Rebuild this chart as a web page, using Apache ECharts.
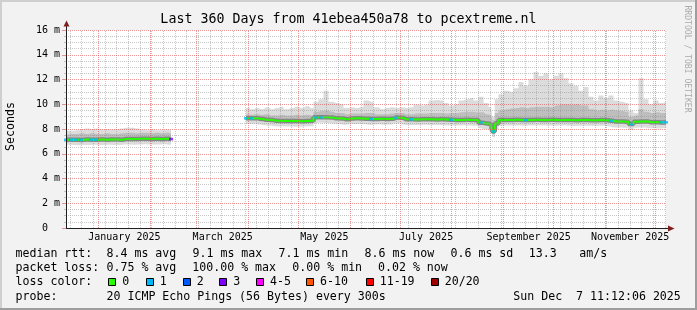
<!DOCTYPE html>
<html><head><meta charset="utf-8">
<script src="https://cdn.jsdelivr.net/npm/echarts@6.0.0/dist/echarts.min.js"></script>
<style>html,body{margin:0;padding:0;background:#f2f2f2;overflow:hidden}#c{width:697px;height:310px}</style>
</head><body><div id="c"></div>
<script>
// ---------- time range ----------
const END_TIME = Date.UTC(2025, 11, 7, 11, 12, 6);
const DAY_MS = 86400000;
const SPAN_DAYS = 360;
const START_TIME = END_TIME - SPAN_DAYS * DAY_MS;

// ---------- tick labels ----------
const xLabelText = ['January 2025', 'March 2025', 'May 2025', 'July 2025', 'September 2025', 'November 2025'];
const xLabelMonths = [0, 2, 4, 6, 8, 10];
const yUnit = 'm';

// ---------- data (days since start) ----------
const seg1Days = [0,3,6,9,12,15,18,21,24,27,30,33,36,39,42,45,48,51,54,57,60,63];
const seg1Med = [7.13,7.14,7.13,7.12,7.15,7.14,7.13,7.15,7.14,7.16,7.15,7.14,7.2,7.2,7.19,7.21,7.22,7.2,7.21,7.2,7.22,7.18];
const seg1Hi  = [7.85,7.85,7.9,8.0,8.05,8.0,8.05,7.95,8.0,7.95,8.0,8.05,8.1,8.1,8.05,7.95,7.9,7.95,7.9,7.9,7.95,7.9];
const seg1Mid = [7.55,7.6,7.6,7.65,7.6,7.65,7.6,7.6,7.65,7.6,7.6,7.65,7.7,7.7,7.65,7.7,7.7,7.65,7.7,7.65,7.7,7.65];
const seg1Lo  = [6.7,6.72,6.7,6.68,6.7,6.7,6.72,6.7,6.7,6.72,6.7,6.7,6.75,6.75,6.72,6.75,6.76,6.75,6.75,6.74,6.76,6.72];

// no data between these two days
const gapStartDay = 63.05;
const gapEndDay = 107.95;

const seg2Days = [108,111,114,117,120,123,126,129,132,135,138,141,144,147,
  150,153,156,159,162,165,168,171,174,177,180,183,186,189,192,195,198,201,
  204,207,210,213,216,219,222,225,228,231,234,237,240,243,246,249,252,
  255,256.5,258,
  261,264,267,270,273,276,279,282,285,288,291,294,297,300,303,306,309,312,315,318,321,324,
  327,330,333,336,339,342,345,348,351,354,357,360];
const seg2Med = [8.86,8.86,8.86,8.8,8.74,8.72,8.66,8.65,8.65,8.64,8.65,8.63,8.65,8.66,
  8.95,8.95,8.94,8.92,8.86,8.85,8.78,8.84,8.86,8.85,8.82,8.8,8.81,8.82,8.8,8.82,8.92,8.9,
  8.78,8.78,8.77,8.78,8.79,8.78,8.77,8.78,8.76,8.74,8.73,8.73,8.74,8.73,8.72,8.5,8.45,
  8.35,7.8,8.45,
  8.72,8.73,8.73,8.74,8.73,8.72,8.73,8.74,8.73,8.73,8.74,8.72,8.73,8.73,8.72,8.7,8.72,8.72,8.71,8.7,8.72,8.71,
  8.66,8.6,8.6,8.58,8.4,8.58,8.6,8.6,8.54,8.55,8.53,8.54];
const seg2Hi = [9.7,9.6,9.7,9.6,9.75,9.6,9.7,9.8,9.6,9.7,9.8,9.7,9.85,9.7,
  10.2,10.4,11.1,10.2,10.1,10.0,9.7,9.75,9.7,9.8,10.3,10.2,9.75,9.6,9.7,9.75,9.7,9.75,
  9.7,9.75,9.95,9.9,9.95,10.3,10.35,10.3,10.1,9.9,10.0,10.3,10.4,10.5,10.3,10.6,10.1,
  9.8,9.0,10.4,
  10.8,11.1,11.0,11.3,11.8,11.5,12.0,12.6,12.3,12.5,12.0,12.3,12.5,12.1,11.7,11.5,11.1,11.4,10.6,10.3,10.7,10.5,
  10.7,10.3,10.2,10.1,9.5,9.3,12.1,10.4,10.0,10.3,10.1,10.2];
const seg2Mid = [9.2,9.15,9.2,9.15,9.2,9.1,9.1,9.15,9.1,9.1,9.15,9.1,9.15,9.1,
  9.4,9.45,9.5,9.4,9.3,9.3,9.2,9.25,9.25,9.25,9.3,9.3,9.2,9.2,9.2,9.25,9.3,9.3,
  9.2,9.2,9.25,9.25,9.25,9.3,9.3,9.3,9.25,9.3,9.3,9.35,9.4,9.4,9.35,9.35,9.2,
  9.1,8.7,9.3,
  9.5,9.6,9.65,9.7,9.75,9.7,9.75,9.8,9.8,9.8,9.75,9.9,10.0,10.0,9.95,10.0,9.9,9.9,9.6,9.5,9.55,9.5,
  9.55,9.5,9.45,9.4,9.0,9.1,9.6,9.4,9.3,9.35,9.3,9.3];
const seg2Lo = [8.42,8.4,8.42,8.36,8.3,8.28,8.22,8.2,8.2,8.2,8.18,8.18,8.2,8.22,
  8.48,8.5,8.48,8.46,8.42,8.4,8.34,8.38,8.4,8.4,8.38,8.35,8.36,8.38,8.35,8.36,8.45,8.44,
  8.34,8.33,8.32,8.33,8.34,8.33,8.32,8.33,8.3,8.29,8.28,8.28,8.3,8.28,8.27,8.06,8.0,
  7.95,7.35,8.0,
  8.27,8.28,8.28,8.29,8.28,8.27,8.28,8.29,8.28,8.28,8.29,8.27,8.28,8.28,8.27,8.25,8.27,8.27,8.26,8.25,8.27,8.26,
  8.2,8.13,8.12,8.1,7.92,8.1,8.12,8.12,8.06,8.07,8.05,8.06];

// packet loss at median points (days, number of lost pings)
const lossDays  = [0,3,6,9,15,18,63,108,111,150,153,183,198,207,231,249,256.5,276,327,339,357,360];
const lossLevel = [1,1,1,1,1,1,3,1,1,1,1,1,1,1,1,1,1,1,1,1,1,1];

// legend
const lossLegendLabels = ['0','1','2','3','4-5','6-10','11-19','20/20'];
const lossLegendColors = ['#26ff00','#00b8ff','#0059ff','#7e00ff','#ff00ff','#ff5500','#ff0000','#a00000'];
const levelColor = {1:'#00b8ff', 2:'#0059ff', 3:'#7e00ff'};

// ---------- helpers ----------
const GRID_LEFT = 66, GRID_W = 600;
const tOf = d => START_TIME + d * DAY_MS;
function build(v1, v2) {
  return seg1Days.map((d, i) => [tOf(d), v1[i]])
    .concat([[tOf(gapStartDay), null], [tOf(gapEndDay), null]])
    .concat(seg2Days.map((d, i) => [tOf(d), v2[i]]));
}
const diff = (a, b) => a.map((v, i) => +(v - b[i]).toFixed(3));

const allDays = seg1Days.concat(seg2Days);
const allMed = seg1Med.concat(seg2Med);
const lossPts = lossDays.map((d, i) => ({
  value: [tOf(d), allMed[allDays.indexOf(d)]],
  itemStyle: { color: levelColor[lossLevel[i]] }
}));

// grid line times snapped to pixel centres so dotted lines stay crisp
function snap(t) {
  const span = END_TIME - START_TIME;
  const px = GRID_LEFT + (t - START_TIME) / span * GRID_W;
  return START_TIME + (Math.floor(px) + 0.5 - GRID_LEFT) / GRID_W * span;
}
const monthLines = [];
for (let m = 0; m < 12; m++) monthLines.push(Date.UTC(2025, m, 1));
const weekLines = [];
for (let w = Date.UTC(2024, 11, 15); w < END_TIME; w += 7 * DAY_MS) weekLines.push(w);
const labelValues = xLabelMonths.map(m => (Date.UTC(2025, m, 1) + Date.UTC(2025, m + 1, 1)) / 2);

const MINOR = 'rgba(143,143,143,0.5)';
const MAJOR = 'rgba(222,79,79,0.6)';
const FONT = '"DejaVu Sans Mono"';

const gridLineData = weekLines.filter(w => monthLines.indexOf(w) < 0)
  .map(w => ({ xAxis: snap(w), lineStyle: { color: MINOR, type: [1, 1], width: 1 } }))
  .concat(monthLines.map(m => ({ xAxis: snap(m), lineStyle: { color: MAJOR, type: [1, 1], width: 1 } })));

const lineBase = { type: 'line', step: 'middle', symbol: 'none', silent: true, animation: false };

// ---------- graphic (frame, axes, texts) ----------
const G = [];
G.push({ type: 'rect', shape: { x: 0, y: 0, width: 697, height: 2 }, style: { fill: '#cfcfcf' }, z: 100 });
G.push({ type: 'rect', shape: { x: 0, y: 0, width: 2, height: 310 }, style: { fill: '#cfcfcf' }, z: 100 });
G.push({ type: 'rect', shape: { x: 0, y: 308, width: 697, height: 2 }, style: { fill: '#9e9e9e' }, z: 101 });
G.push({ type: 'rect', shape: { x: 695, y: 0, width: 2, height: 310 }, style: { fill: '#9e9e9e' }, z: 101 });
// axes
G.push({ type: 'line', shape: { x1: 66.5, y1: 229, x2: 66.5, y2: 26 }, style: { stroke: '#1f1f1f', lineWidth: 1 }, z: 100 });
G.push({ type: 'line', shape: { x1: 66, y1: 228.5, x2: 669, y2: 228.5 }, style: { stroke: '#1f1f1f', lineWidth: 1 }, z: 100 });
G.push({ type: 'polygon', shape: { points: [[63.5, 26.5], [66.5, 20.5], [69.5, 26.5]] }, style: { fill: '#801f1f' }, z: 101 });
G.push({ type: 'polygon', shape: { points: [[668, 225.5], [674.5, 228.5], [668, 231.5]] }, style: { fill: '#801f1f' }, z: 101 });
function txt(x, y, s, size, opts) {
  G.push(Object.assign({ type: 'text', x: x, y: y, z: 100,
    style: Object.assign({ text: s, font: size + 'px ' + FONT, fill: '#000', align: 'left', verticalAlign: 'middle' }, (opts && opts.style) || {}) },
    (opts && opts.el) || {}));
}
txt(348.5, 19.6, 'Last 360 Days from 41ebea450a78 to pcextreme.nl', 13.3, { style: { align: 'center' } });
txt(10.5, 126.5, 'Seconds', 11.6, { style: { align: 'center' }, el: { rotation: Math.PI / 2 } });
txt(687.5, 59, 'RRDTOOL / TOBI OETIKER', 8.1, { style: { align: 'center', fill: '#ababab' }, el: { rotation: -Math.PI / 2 } });

const L1 = 253.6, L2 = 268, L3 = 282.4, L4 = 296.6, LF = 11.6;
[[15.5, 'median rtt:'], [106.5, '8.4 ms avg'], [192.5, '9.1 ms max'], [278.5, '7.1 ms min'],
 [364.5, '8.6 ms now'], [450.5, '0.6 ms sd'], [528.8, '13.3'], [579.3, 'am/s']].forEach(a => txt(a[0], L1, a[1], LF));
[[15.5, 'packet loss:'], [106.5, '0.75 % avg'], [192.3, '100.00 % max'], [292.3, '0.00 % min'],
 [378, '0.02 % now']].forEach(a => txt(a[0], L2, a[1], LF));
txt(15.5, L3, 'loss color:', LF);
const boxX = [108.3, 145.7, 182.7, 219.3, 256, 306, 365.7, 430.7];
boxX.forEach((bx, i) => {
  G.push({ type: 'rect', z: 100, shape: { x: Math.round(bx) + 0.5, y: 278.5, width: 7, height: 7 },
    style: { fill: lossLegendColors[i], stroke: '#000', lineWidth: 1 } });
  txt(bx + 14, L3, lossLegendLabels[i], LF);
});
txt(15.5, L4, 'probe:', LF);
txt(106.5, L4, '20 ICMP Echo Pings (56 Bytes) every 300s', LF);
txt(680.8, L4, 'Sun Dec  7 11:12:06 2025', LF, { style: { align: 'right' } });

// ---------- chart ----------
const chart = echarts.init(document.getElementById('c'), null, { renderer: 'canvas' });
chart.setOption({
  animation: false,
  backgroundColor: '#f2f2f2',
  grid: { left: GRID_LEFT, right: 697 - GRID_LEFT - GRID_W, top: 30, bottom: 82, show: true, backgroundColor: '#ffffff', borderWidth: 0, containLabel: false, outerBoundsMode: 'none' },
  xAxis: [{
    type: 'time', min: START_TIME, max: END_TIME, z: 10,
    axisLine: { show: false }, axisTick: { show: false }, splitLine: { show: false }, axisLabel: { show: false }
  }, {
    type: 'value', min: START_TIME, max: END_TIME, position: 'bottom', z: 10,
    axisLine: { show: false }, axisTick: { show: false }, splitLine: { show: false },
    axisLabel: {
      customValues: labelValues,
      formatter: function (v) {
        let best = 0, bd = Infinity;
        labelValues.forEach((lv, i) => { const dd = Math.abs(lv - v); if (dd < bd) { bd = dd; best = i; } });
        return xLabelText[best];
      },
      fontFamily: 'DejaVu Sans Mono', fontSize: 10, color: '#000', margin: 9, verticalAlign: 'middle',
      hideOverlap: false
    }
  }],
  yAxis: {
    type: 'value', min: 0, max: 16, interval: 2, z: 10,
    axisLine: { show: false },
    axisTick: { show: true, length: 4, lineStyle: { color: MAJOR } },
    minorTick: { show: true, splitNumber: 4, length: 2, lineStyle: { color: MINOR } },
    splitLine: { show: true, lineStyle: { color: MAJOR, type: [1, 1], width: 1 } },
    minorSplitLine: { show: true, lineStyle: { color: MINOR, type: [1, 1], width: 1 } },
    axisLabel: {
      formatter: v => v === 0 ? '0  ' : v + ' ' + yUnit,
      fontFamily: 'DejaVu Sans Mono', fontSize: 10, color: '#000', margin: 6
    }
  },
  series: [
    Object.assign({}, lineBase, { name: 'lightBase', stack: 'light', data: build(seg1Lo, seg2Lo), lineStyle: { width: 0, opacity: 0 }, z: 1 }),
    Object.assign({}, lineBase, { name: 'lightBand', stack: 'light', data: build(diff(seg1Hi, seg1Lo), diff(seg2Hi, seg2Lo)), lineStyle: { width: 0, opacity: 0 }, areaStyle: { color: '#dcdcdc', opacity: 1 }, z: 1 }),
    Object.assign({}, lineBase, { name: 'midBase', stack: 'mid', data: build(seg1Med, seg2Med), lineStyle: { width: 0, opacity: 0 }, z: 2 }),
    Object.assign({}, lineBase, { name: 'midBand', stack: 'mid', data: build(diff(seg1Mid, seg1Med), diff(seg2Mid, seg2Med)), lineStyle: { width: 0, opacity: 0 }, areaStyle: { color: '#bebebe', opacity: 1 }, z: 2 }),
    Object.assign({}, lineBase, { name: 'halo', data: build(seg1Med, seg2Med), lineStyle: { width: 4.5, color: '#858585' }, z: 3 }),
    Object.assign({}, lineBase, { name: 'median', data: build(seg1Med, seg2Med), lineStyle: { width: 2, color: '#26ff00' }, z: 4 }),
    { name: 'loss', type: 'scatter', symbol: 'rect', symbolSize: [4, 2.5], data: lossPts, silent: true, animation: false, z: 5 },
    { name: 'grid', type: 'line', data: [], silent: true, animation: false, z: 10,
      markLine: { silent: true, symbol: ['none', 'none'], label: { show: false }, animation: false, data: gridLineData } }
  ],
  graphic: G
});
</script></body></html>
